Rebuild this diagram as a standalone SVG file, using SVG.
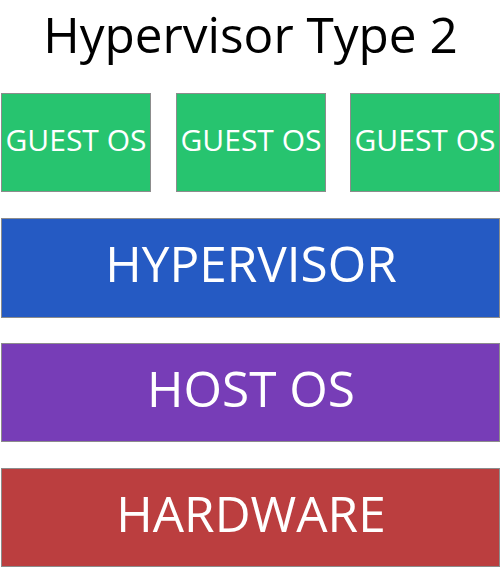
<svg xmlns="http://www.w3.org/2000/svg" width="501" height="568" viewBox="0 0 501 568">
<style>
.box{stroke:#8c8c8c;stroke-width:1}
.t{font-family:"Open Sans","DejaVu Sans",sans-serif;fill:#ffffff;text-anchor:middle}
.g{font-size:30px}
.b{font-size:49.5px}
</style>
<rect width="501" height="568" fill="#ffffff"/>
<text x="250.5" y="53" font-family="Open Sans, DejaVu Sans, sans-serif" font-size="49.5" text-anchor="middle" fill="#000000">Hypervisor Type 2</text>
<g id="guest1"><rect class="box" x="1.5" y="93.5" width="149" height="98" fill="#27c46f"/><text class="t g" x="76" y="151">GUEST OS</text></g>
<g id="guest2"><rect class="box" x="176.5" y="93.5" width="149" height="98" fill="#27c46f"/><text class="t g" x="251" y="151">GUEST OS</text></g>
<g id="guest3"><rect class="box" x="350.5" y="93.5" width="149" height="98" fill="#27c46f"/><text class="t g" x="425" y="151">GUEST OS</text></g>
<g id="hypervisor"><rect class="box" x="1.5" y="218.5" width="498" height="99" fill="#255ac3"/><text class="t b" x="251" y="282">HYPERVISOR</text></g>
<g id="hostos"><rect class="box" x="1.5" y="343.5" width="498" height="98" fill="#773db7"/><text class="t b" x="251" y="407">HOST OS</text></g>
<g id="hardware"><rect class="box" x="1.5" y="468.5" width="498" height="98" fill="#bb3e3f"/><text class="t b" x="251" y="532">HARDWARE</text></g>
<g id="connectors"></g>
</svg>
